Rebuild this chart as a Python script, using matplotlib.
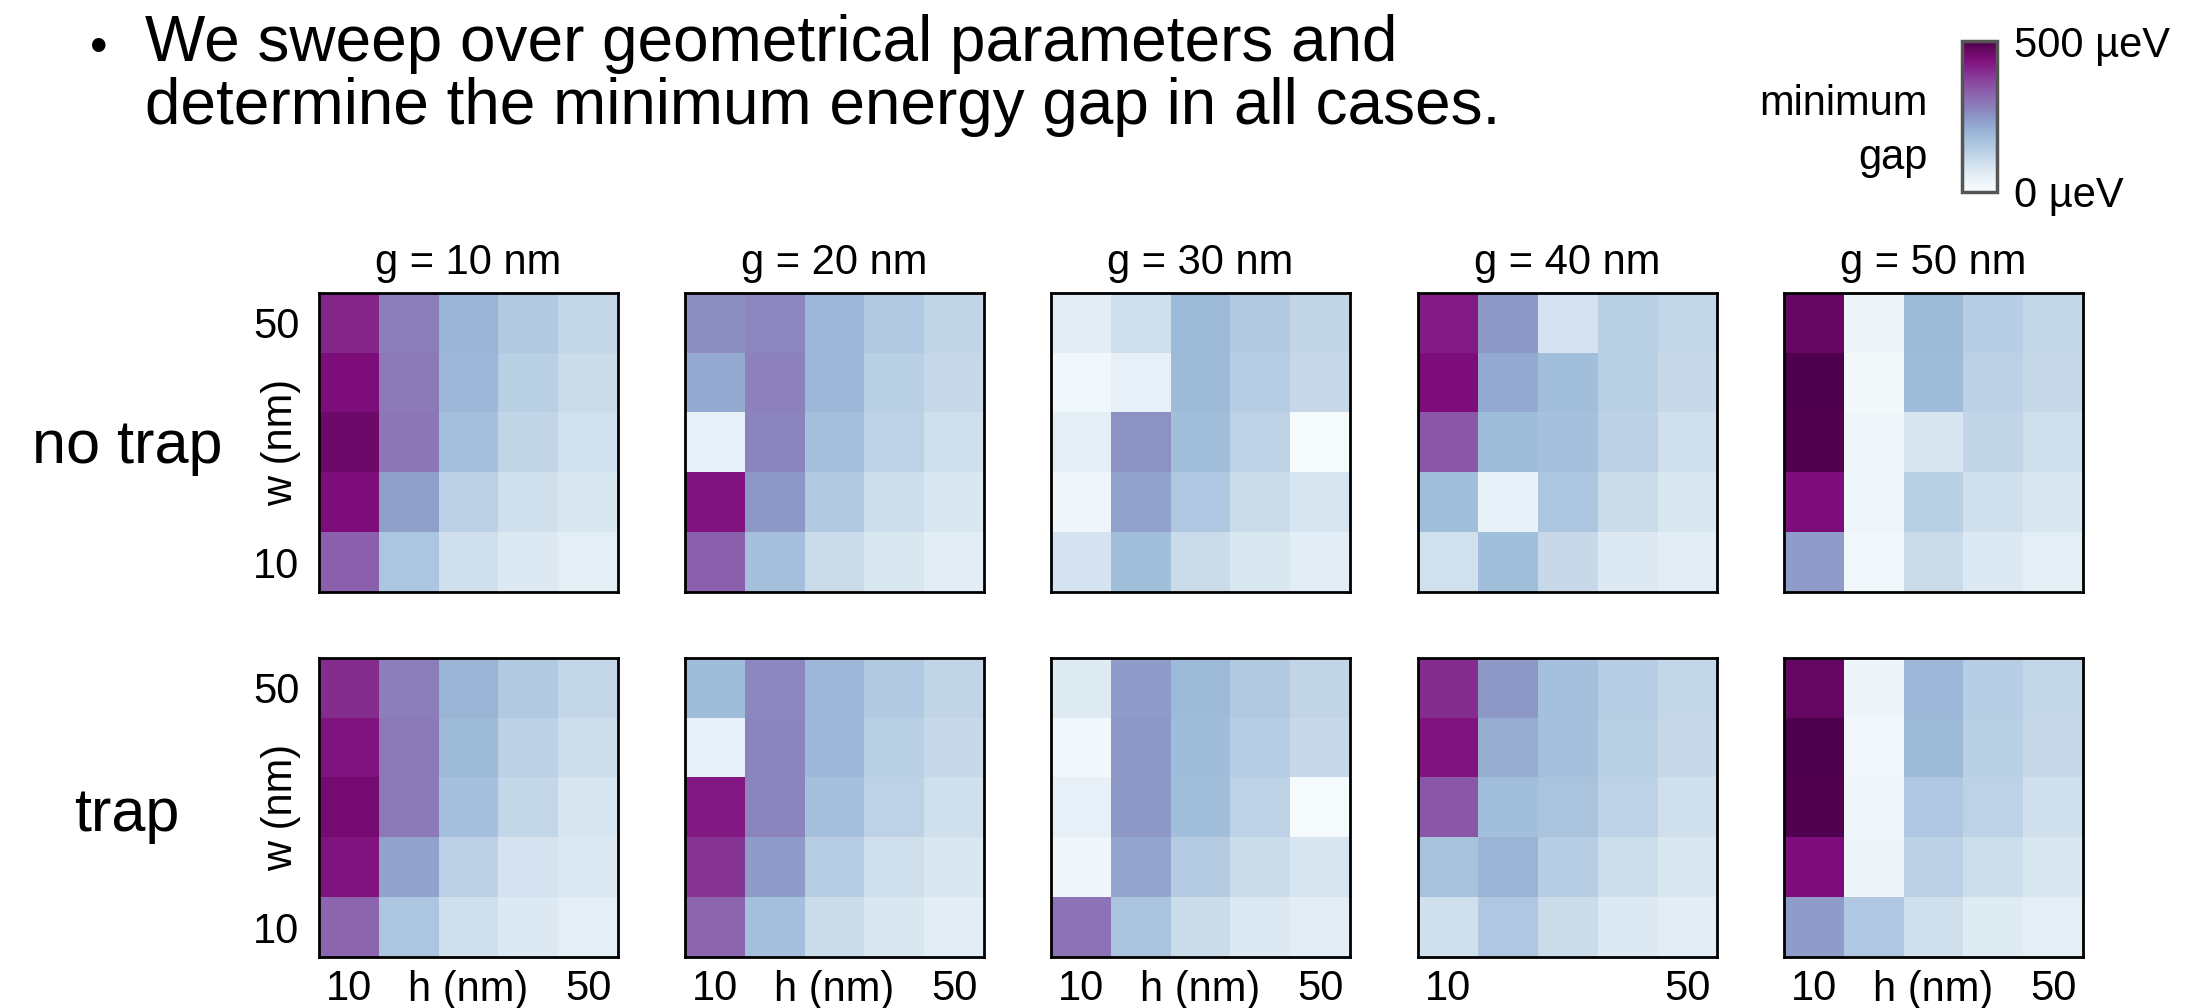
import matplotlib
matplotlib.use("Agg")
import matplotlib.pyplot as plt
import numpy as np

plt.rcParams['font.family'] = ['Liberation Sans', 'DejaVu Sans']

# ---- data (minimum gap in µeV), rows: w = 50 (top) ... 10 (bottom); cols: h = 10 ... 50
gaps_g = [10, 20, 30, 40, 50]
w_labels = ["50", "10"]
h_labels = ["10", "h (nm)", "50"]

notrap_g10 = [[410, 285, 200, 150, 115],
              [440, 290, 195, 135, 105],
              [460, 295, 175, 120, 90],
              [440, 235, 130, 95, 75],
              [330, 160, 95, 70, 50]]
notrap_g20 = [[260, 270, 195, 150, 120],
              [215, 280, 195, 135, 110],
              [40, 275, 175, 125, 95],
              [430, 245, 150, 100, 75],
              [330, 175, 105, 75, 55]]
notrap_g30 = [[60, 95, 190, 150, 120],
              [15, 45, 190, 140, 110],
              [50, 255, 180, 125, 5],
              [20, 230, 155, 105, 80],
              [85, 180, 105, 75, 55]]
notrap_g40 = [[420, 245, 85, 135, 115],
              [440, 215, 180, 135, 110],
              [340, 185, 175, 130, 95],
              [180, 40, 160, 105, 75],
              [90, 180, 110, 70, 55]]
notrap_g50 = [[470, 25, 190, 140, 115],
              [500, 10, 185, 130, 110],
              [495, 20, 80, 120, 95],
              [440, 20, 135, 95, 75],
              [240, 15, 105, 70, 50]]

trap_g10 = [[400, 285, 200, 150, 115],
            [430, 290, 190, 130, 100],
            [450, 290, 175, 115, 80],
            [430, 230, 130, 85, 70],
            [320, 160, 95, 70, 50]]
trap_g20 = [[185, 270, 195, 150, 120],
            [45, 275, 195, 135, 110],
            [425, 275, 175, 125, 95],
            [390, 240, 140, 95, 75],
            [320, 175, 105, 75, 55]]
trap_g30 = [[65, 240, 190, 150, 120],
            [15, 245, 185, 140, 110],
            [45, 245, 180, 125, 5],
            [20, 225, 145, 105, 80],
            [300, 165, 105, 70, 55]]
trap_g40 = [[400, 245, 175, 140, 115],
            [430, 210, 175, 135, 110],
            [340, 180, 165, 125, 95],
            [170, 200, 140, 100, 75],
            [95, 155, 105, 70, 55]]
trap_g50 = [[470, 25, 195, 140, 115],
            [500, 15, 190, 135, 110],
            [495, 20, 155, 125, 95],
            [440, 25, 130, 100, 75],
            [240, 155, 95, 65, 50]]

rows = [("no trap", [notrap_g10, notrap_g20, notrap_g30, notrap_g40, notrap_g50]),
        ("trap", [trap_g10, trap_g20, trap_g30, trap_g40, trap_g50])]

VMIN, VMAX = 0, 500
CMAP = "BuPu"

W, H = 2206, 1008
fig = plt.figure(figsize=(W / 100, H / 100), dpi=100)

def fax(left, top, w, h):
    return fig.add_axes([left / W, 1 - (top + h) / H, w / W, h / H])

lefts = [319, 685, 1051, 1418, 1784]
tops = [293, 658]
size = 299
FS = 30

im = None
for r, (rowname, panels) in enumerate(rows):
    for c, data in enumerate(panels):
        ax = fax(lefts[c], tops[r], size, size)
        im = ax.imshow(np.array(data), cmap=CMAP, vmin=VMIN, vmax=VMAX,
                       interpolation='nearest', aspect='auto')
        for sp in ax.spines.values():
            sp.set_linewidth(2.0)
            sp.set_color('black')
        ax.tick_params(length=0, labelsize=FS)
        if c == 3:
            ax.set_xticks([0, 4])
            ax.set_xticklabels([h_labels[0], h_labels[2]])
        else:
            ax.set_xticks([0, 2, 4])
            ax.set_xticklabels(h_labels)
        if r == 0:
            ax.set_xticks([])
            ax.text(0.5, 1.10, f"g = {gaps_g[c]} nm", transform=ax.transAxes,
                    ha='center', va='center', fontsize=FS)
        else:
            ax.tick_params(axis='x', pad=9)
        if c == 0:
            ax.set_yticks([0, 4])
            ax.set_yticklabels(w_labels)
            ax.tick_params(axis='y', pad=14)
            ax.text(-0.127, 0.5, "w (nm)", transform=ax.transAxes, rotation=90,
                    ha='center', va='center', fontsize=FS)
        else:
            ax.set_yticks([])

fig.text(127 / W, 1 - 447 / H, "no trap", ha='center', va='center', fontsize=44)
fig.text(127 / W, 1 - 816 / H, "trap", ha='center', va='center', fontsize=44)

# header text
fig.text(99 / W, 1 - 62 / H, "•", ha='center', va='baseline', fontsize=36)
fig.text(145 / W, 1 - 61 / H, "We sweep over geometrical parameters and",
         ha='left', va='baseline', fontsize=46)
fig.text(145 / W, 1 - 124 / H, "determine the minimum energy gap in all cases.",
         ha='left', va='baseline', fontsize=46)

# colorbar
cax = fax(1962, 41, 35, 151)
cb = fig.colorbar(im, cax=cax)
cb.set_ticks([0, 500])
cb.set_ticklabels(["0 µeV", "500 µeV"])
cax.tick_params(length=0, labelsize=FS, pad=12)
cb.outline.set_edgecolor('#555555')
cb.outline.set_linewidth(2.5)
fig.text(1928 / W, 1 - 131 / H, "minimum\ngap", ha='right', va='center',
         multialignment='right', fontsize=FS, linespacing=1.45)

fig.savefig("out.png", dpi=100)
